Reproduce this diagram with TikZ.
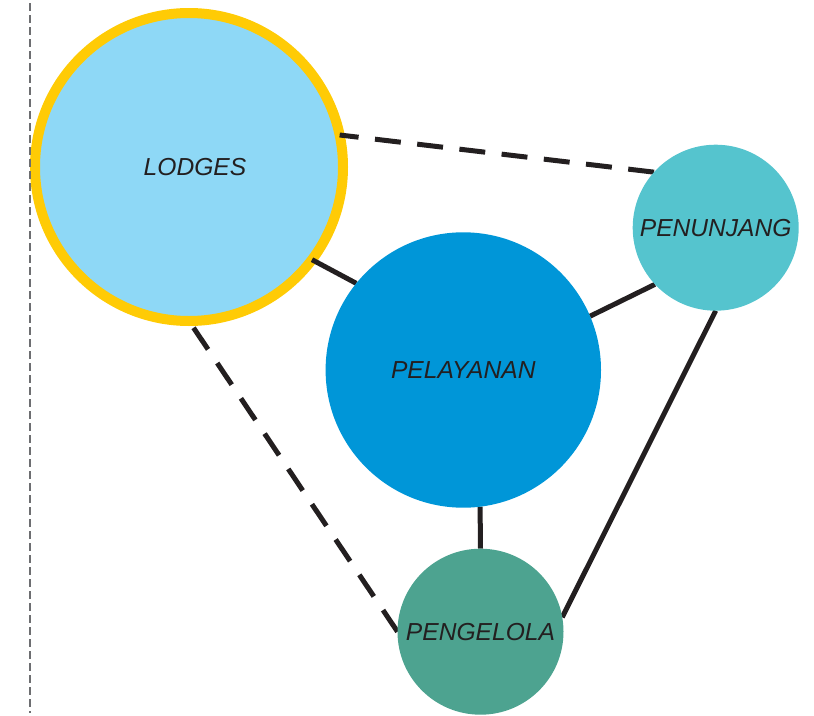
\documentclass[tikz,border=0pt]{standalone}
\usepackage{fontspec}
\setmainfont{Liberation Sans}
\usetikzlibrary{shapes.geometric}

\definecolor{lodgeblue}{HTML}{8ED8F6}
\definecolor{ringyellow}{HTML}{FFCB05}
\definecolor{serviceblue}{HTML}{0096D8}
\definecolor{supportteal}{HTML}{55C4CE}
\definecolor{managegreen}{HTML}{4DA390}
\definecolor{ink}{HTML}{231F20}
\definecolor{guidegray}{HTML}{6D6E71}

\pgfdeclarelayer{bottom}
\pgfdeclarelayer{links}
\pgfsetlayers{bottom,links,main}

\tikzset{
  zone/.style={circle, inner sep=0pt, outer sep=0pt, draw=none,
    text=ink, font=\fontsize{24.6}{28}\selectfont\itshape},
  link/.style={draw=ink, line width=5pt},
  dashlink/.style={link, dash pattern=on 26pt off 16.5pt},
  guide/.style={draw=guidegray, line width=2pt, dash pattern=on 7.5pt off 4.5pt}
}

\begin{document}
\begin{tikzpicture}[x=1pt, y=-1pt]
  \useasboundingbox (0,0) rectangle (814,715);

  % left guide line
  \coordinate (guidetop) at (29.7,3.3);
  \coordinate (guidebottom) at (29.7,713);
  \draw[guide] (guidetop) -- (guidebottom);

  % the large ringed zone sits below the connectors
  \begin{pgfonlayer}{bottom}
    \node[zone, minimum size=308pt, fill=lodgeblue, draw=ringyellow,
          line width=10pt] (lodges) at (189,167) {\hspace*{12pt}LODGES};
  \end{pgfonlayer}

  % the other zones cover the connector ends
  \node[zone, minimum size=275.4pt, fill=serviceblue] (pelayanan) at (463.3,370) {PELAYANAN};
  \node[zone, minimum size=166pt, fill=supportteal] (penunjang) at (715.7,227.7) {PENUNJANG};
  \node[zone, minimum size=166pt, fill=managegreen] (pengelola) at (480.5,631.7) {PENGELOLA};

  % connectors
  \begin{pgfonlayer}{links}
    \draw[dashlink] (penunjang.138.3) -- (lodges.12.6);
    \draw[dashlink, shorten >=6.9pt] (pengelola.west) -- (lodges.south);
    \draw[link] (lodges.-37.2) -- (pelayanan.141.9);
    \draw[link] (pelayanan.23.6) -- (penunjang.223.8);
    \draw[link] (pelayanan.-83.3) -- (pengelola.north);
    \draw[link] (penunjang.south) -- (pengelola.10.1);
  \end{pgfonlayer}
\end{tikzpicture}
\end{document}
